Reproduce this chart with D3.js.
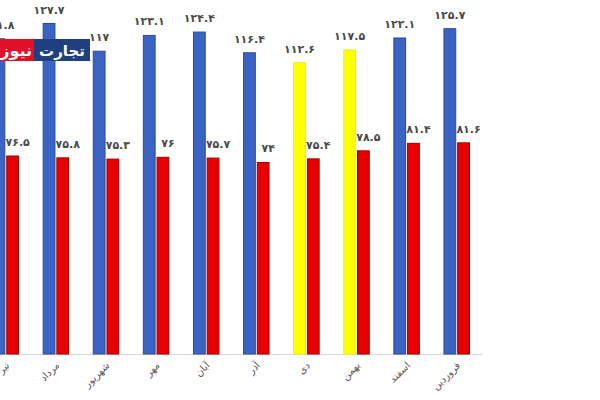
<!DOCTYPE html>
<html>
<head>
<meta charset="utf-8">
<script src="https://cdn.jsdelivr.net/npm/d3@7"></script>
<style>
  html, body { margin: 0; padding: 0; background: #ffffff; }
  svg { display: block; }
</style>
</head>
<body>
<svg id="chart" width="600" height="400"></svg>
<script>
const categories = ["تیر", "مرداد", "شهریور", "مهر", "آبان", "آذر", "دی", "بهمن", "اسفند", "فروردین"];
const blueValues = [121.8, 127.7, 117, 123.1, 124.4, 116.4, 112.6, 117.5, 122.1, 125.7];
const redValues  = [76.5, 75.8, 75.3, 76, 75.7, 74, 75.4, 78.5, 81.4, 81.6];
const highlighted = ["دی", "بهمن"];
const logoWords = ["تجارت", "نیوز"];

const svg = d3.select("#chart");
const W = 600, H = 400;
svg.append("rect").attr("width", W).attr("height", H).attr("fill", "#fff");

const baseY = 354;
const y = d3.scaleLinear().domain([0, 140]).range([baseY, baseY - 140 * 2.588]);
const x = d3.scaleBand().domain(categories).range([-19, 482]).paddingInner(0).paddingOuter(0);
const x1 = d3.scaleBand().domain(["blue", "red"]).range([-13, 12.5]).paddingInner(0.14);

const toFa = s => String(s).replace(/[0-9]/g, d => "۰۱۲۳۴۵۶۷۸۹"[+d]);
const fmt = v => toFa(Number.isInteger(v) ? v : v.toFixed(1));

const center = c => x(c) + x.bandwidth() / 2;

const rows = categories.map((c, i) => ({ c, blue: blueValues[i], red: redValues[i] }));

// axis
const axis = d3.axisBottom(x).tickSize(0).tickPadding(0);
const gAxis = svg.append("g").attr("transform", `translate(0,${baseY})`).call(axis);
gAxis.select(".domain").attr("stroke", "#d9d9d9").attr("stroke-width", 1);
gAxis.selectAll(".tick text")
  .attr("font-family", "DejaVu Sans, sans-serif")
  .attr("font-size", 10)
  .attr("fill", "#595959")
  .attr("text-anchor", "end")
  .attr("dy", null)
  .attr("y", 0)
  .attr("transform", "translate(4,12) rotate(-45)");

// bars
const g = svg.append("g");
rows.forEach(r => {
  const cx = center(r.c);
  const isHi = highlighted.includes(r.c);
  g.append("rect")
    .attr("x", cx + x1("blue"))
    .attr("y", y(r.blue))
    .attr("width", x1.bandwidth())
    .attr("height", y(0) - y(r.blue))
    .attr("fill", isHi ? "#ffff00" : "#3b63c4")
    .attr("stroke", isHi ? "#f2f200" : "#2a4a9c")
    .attr("stroke-width", 1);
  g.append("rect")
    .attr("x", cx + x1("red"))
    .attr("y", y(r.red))
    .attr("width", x1.bandwidth())
    .attr("height", y(0) - y(r.red))
    .attr("fill", "#e60000")
    .attr("stroke", "#a00000")
    .attr("stroke-width", 1);

  g.append("text")
    .attr("x", cx + x1("blue") + x1.bandwidth() / 2)
    .attr("y", y(r.blue) - 10)
    .attr("text-anchor", "middle")
    .attr("font-family", "DejaVu Sans, sans-serif")
    .attr("font-weight", "bold")
    .attr("font-size", 11)
    .attr("fill", "#4a4a4a")
    .text(fmt(r.blue));
  g.append("text")
    .attr("x", cx + x1("red") + x1.bandwidth() / 2 + 5)
    .attr("y", y(r.red) - 10)
    .attr("text-anchor", "middle")
    .attr("font-family", "DejaVu Sans, sans-serif")
    .attr("font-weight", "bold")
    .attr("font-size", 11)
    .attr("fill", "#4a4a4a")
    .text(fmt(r.red));
});

// watermark logo
const logo = svg.append("g");
logo.append("rect").attr("x", 0).attr("y", 39).attr("width", 34).attr("height", 22).attr("fill", "#e0102a");
logo.append("rect").attr("x", 34).attr("y", 39).attr("width", 56).attr("height", 22).attr("fill", "#1f3f7e");
logo.append("text")
  .attr("x", 62).attr("y", 55.5)
  .attr("text-anchor", "middle")
  .attr("font-family", "DejaVu Sans, sans-serif")
  .attr("font-weight", "bold").attr("font-size", 15)
  .attr("fill", "#fff")
  .text(logoWords[0]);
logo.append("text")
  .attr("x", 32).attr("y", 55.5)
  .attr("text-anchor", "end")
  .attr("font-family", "DejaVu Sans, sans-serif")
  .attr("font-weight", "bold").attr("font-size", 16)
  .attr("fill", "#fff")
  .text(logoWords[1]);
</script>
</body>
</html>
